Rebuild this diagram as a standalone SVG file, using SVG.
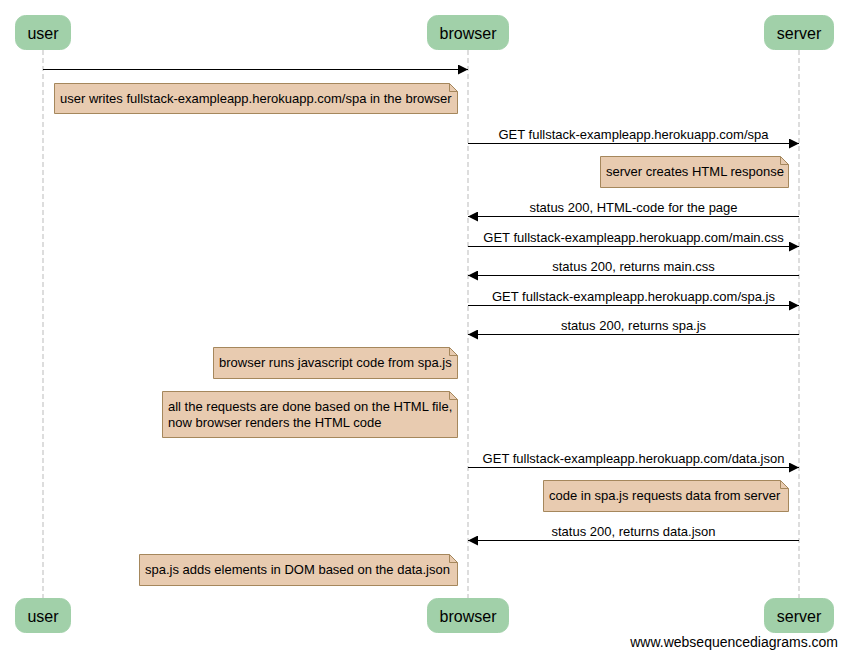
<svg xmlns="http://www.w3.org/2000/svg" width="848" height="657" viewBox="0 0 848 657">
<style>
.actor rect{fill:#a1d0a9;stroke:#a1d0a9;stroke-width:1}
.actor text{font-family:"Liberation Sans",Arial,sans-serif;font-size:16px;fill:#000;text-anchor:middle}
.life{stroke:#bbbbbb;stroke-width:1;stroke-dasharray:5,3;fill:none}
.msg line{stroke:#000;stroke-width:1}
.lbl{font-family:"Liberation Sans",Arial,sans-serif;font-size:13px;fill:#000;text-anchor:middle}
.note path.body{fill:#e8cbb0;stroke:#a5875c;stroke-width:1}
.note path.fold{fill:none;stroke:#a5875c;stroke-width:1}
.note text{font-family:"Liberation Sans",Arial,sans-serif;font-size:13px;fill:#000}
.foot{font-family:"Liberation Sans",Arial,sans-serif;font-size:14px;fill:#000;text-anchor:end}
</style>
<defs>
<marker id="ah" markerWidth="10" markerHeight="10" refX="10" refY="5" orient="auto" markerUnits="userSpaceOnUse">
<path d="M0,0 L10,5 L0,10 Z" fill="#000"/>
</marker>
</defs>
<rect width="848" height="657" fill="#fff"/>
<g id="lifelines">
<line class="life" x1="43" y1="50" x2="43" y2="598"/>
<line class="life" x1="468" y1="50" x2="468" y2="598"/>
<line class="life" x1="799" y1="50" x2="799" y2="598"/>
</g>
<g id="actor-user-top" class="actor"><rect x="15.5" y="15.5" width="55" height="34" rx="10"/><text x="43" y="38.5">user</text></g>
<g id="actor-browser-top" class="actor"><rect x="427.5" y="15.5" width="81" height="34" rx="10"/><text x="468" y="38.5">browser</text></g>
<g id="actor-server-top" class="actor"><rect x="764.5" y="15.5" width="69" height="34" rx="10"/><text x="799" y="38.5">server</text></g>
<g id="actor-user-bottom" class="actor"><rect x="15.5" y="598.5" width="55" height="34" rx="10"/><text x="43" y="621.5">user</text></g>
<g id="actor-browser-bottom" class="actor"><rect x="427.5" y="598.5" width="81" height="34" rx="10"/><text x="468" y="621.5">browser</text></g>
<g id="actor-server-bottom" class="actor"><rect x="764.5" y="598.5" width="69" height="34" rx="10"/><text x="799" y="621.5">server</text></g>
<g id="connectors" class="msg">
<line x1="43" y1="69.5" x2="468" y2="69.5" marker-end="url(#ah)"/>
<line x1="468" y1="143.5" x2="799" y2="143.5" marker-end="url(#ah)"/>
<text class="lbl" x="633.5" y="139">GET fullstack-exampleapp.herokuapp.com/spa</text>
<line x1="799" y1="216.5" x2="468" y2="216.5" marker-end="url(#ah)"/>
<text class="lbl" x="633.5" y="212">status 200, HTML-code for the page</text>
<line x1="468" y1="246.5" x2="799" y2="246.5" marker-end="url(#ah)"/>
<text class="lbl" x="633.5" y="242">GET fullstack-exampleapp.herokuapp.com/main.css</text>
<line x1="799" y1="275.5" x2="468" y2="275.5" marker-end="url(#ah)"/>
<text class="lbl" x="633.5" y="271">status 200, returns main.css</text>
<line x1="468" y1="305.5" x2="799" y2="305.5" marker-end="url(#ah)"/>
<text class="lbl" x="633.5" y="301">GET fullstack-exampleapp.herokuapp.com/spa.js</text>
<line x1="799" y1="334.5" x2="468" y2="334.5" marker-end="url(#ah)"/>
<text class="lbl" x="633.5" y="330">status 200, returns spa.js</text>
<line x1="468" y1="467.5" x2="799" y2="467.5" marker-end="url(#ah)"/>
<text class="lbl" x="633.5" y="463">GET fullstack-exampleapp.herokuapp.com/data.json</text>
<line x1="799" y1="540.5" x2="468" y2="540.5" marker-end="url(#ah)"/>
<text class="lbl" x="633.5" y="536">status 200, returns data.json</text>
</g>
<g id="note1" class="note">
<path class="body" d="M54.5,83.5 H449.5 L457.5,91.5 V113.5 H54.5 Z"/>
<path class="fold" d="M449.5,83.5 V91.5 H457.5"/>
<text x="60" y="102.5">user writes fullstack-exampleapp.herokuapp.com/spa in the browser</text>
</g>
<g id="note2" class="note">
<path class="body" d="M600.5,156.5 H780.5 L788.5,164.5 V187.5 H600.5 Z"/>
<path class="fold" d="M780.5,156.5 V164.5 H788.5"/>
<text x="606" y="176">server creates HTML response</text>
</g>
<g id="note3" class="note">
<path class="body" d="M213.5,347.5 H449.5 L457.5,355.5 V378.5 H213.5 Z"/>
<path class="fold" d="M449.5,347.5 V355.5 H457.5"/>
<text x="219" y="367">browser runs javascript code from spa.js</text>
</g>
<g id="note4" class="note">
<path class="body" d="M162.5,391.5 H449.5 L457.5,399.5 V437.5 H162.5 Z"/>
<path class="fold" d="M449.5,391.5 V399.5 H457.5"/>
<text x="168" y="410.5">all the requests are done based on the HTML file,</text>
<text x="168" y="426.5">now browser renders the HTML code</text>
</g>
<g id="note5" class="note">
<path class="body" d="M543.5,480.5 H780.5 L788.5,488.5 V511.5 H543.5 Z"/>
<path class="fold" d="M780.5,480.5 V488.5 H788.5"/>
<text x="549" y="500">code in spa.js requests data from server</text>
</g>
<g id="note6" class="note">
<path class="body" d="M139.5,554.5 H449.5 L457.5,562.5 V585.5 H139.5 Z"/>
<path class="fold" d="M449.5,554.5 V562.5 H457.5"/>
<text x="145" y="574">spa.js adds elements in DOM based on the data.json</text>
</g>
<text class="foot" x="838" y="647">www.websequencediagrams.com</text>
</svg>
